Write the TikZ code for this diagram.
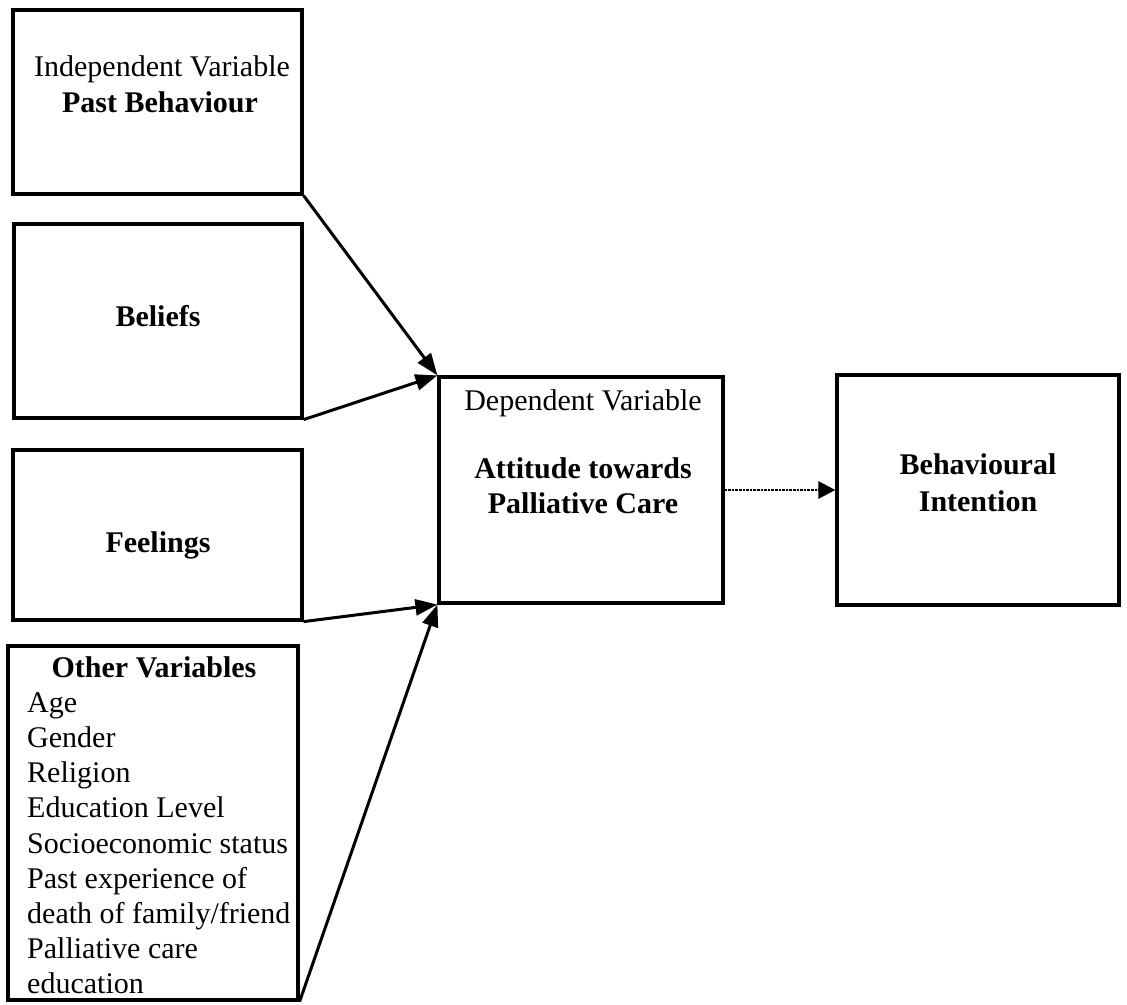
\documentclass[tikz,border=0pt]{standalone}
\usepackage{fontspec}
\setmainfont{Liberation Serif}
\usetikzlibrary{arrows.meta}
\begin{document}
\begin{tikzpicture}[x=1pt,y=-1pt,
  box/.style={draw,line width=3.2pt,inner sep=0pt},
  txt/.style={inner sep=0pt,anchor=base,font=\fontsize{30}{35}\selectfont},
  btxt/.style={txt,font=\fontsize{30}{35}\selectfont\bfseries},
  ltxt/.style={txt,anchor=base west},
  conn/.style={line width=3pt,-{Triangle[length=22pt,width=16pt]}},
  dotconn/.style={line width=2.6pt,densely dotted,-{Triangle[length=17pt,width=17pt]}}]
\useasboundingbox (0,0) rectangle (1127,1004);
% boxes
\node[box,minimum width=289pt,minimum height=184pt] (pb) at (157.5,102) {};
\node[box,minimum width=288pt,minimum height=194pt] (bel) at (158,321) {};
\node[box,minimum width=289pt,minimum height=170pt] (fee) at (157.5,535) {};
\node[box,minimum width=290pt,minimum height=354pt] (oth) at (153,823) {};
\node[box,minimum width=284pt,minimum height=226pt] (dep) at (581,490) {};
\node[box,minimum width=282pt,minimum height=230pt] (beh) at (978,490) {};
% texts
\node[txt] (pb1) at (162,76) {Independent Variable};
\node[btxt] (pb2) at (160,112) {Past Behaviour};
\node[btxt] (belt) at (158,326) {Beliefs};
\node[btxt] (feet) at (158,552) {Feelings};
\node[btxt] (otht) at (154,677) {Other Variables};
\node[ltxt] (o1) at (27,712) {Age};
\node[ltxt] (o2) at (27,747) {Gender};
\node[ltxt] (o3) at (27,782) {Religion};
\node[ltxt] (o4) at (27,817) {Education Level};
\node[ltxt] (o5) at (27,853) {Socioeconomic status};
\node[ltxt] (o6) at (27,888) {Past experience of};
\node[ltxt] (o7) at (27,923) {death of family/friend};
\node[ltxt] (o8) at (27,958) {Palliative care};
\node[ltxt] (o9) at (27,993) {education};
\node[txt] (dep1) at (583,410) {Dependent Variable};
\node[btxt] (dep2) at (583,478) {Attitude towards};
\node[btxt] (dep3) at (583,513) {Palliative Care};
\node[btxt] (beh1) at (978,474) {Behavioural};
\node[btxt] (beh2) at (978,511) {Intention};
% connectors
\draw[conn] (pb.south east) -- (dep.north west);
\draw[conn] (bel.south east) -- (dep.north west);
\draw[conn] (fee.south east) -- (dep.south west);
\draw[conn] (oth.south east) -- (dep.south west);
\draw[dotconn] (dep.east) -- (beh.west);
\end{tikzpicture}
\end{document}
